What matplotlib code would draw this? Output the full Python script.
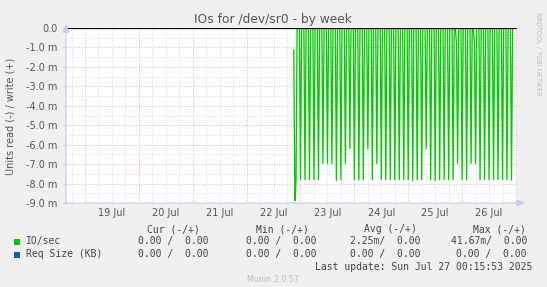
import matplotlib
matplotlib.use("Agg")
import matplotlib.pyplot as plt
import numpy as np

# read IO/sec (milli), one spike every 2 hours starting 22 Jul 22:00
spike_depths = [
    -7.85, -7.80, -7.80, -7.80, -7.80, -7.80, -6.96, -6.96, -6.96, -7.85,
    -7.80, -6.96, -6.19, -7.80, -7.80, -7.80, -6.20, -7.80, -6.96, -7.80,
    -7.80, -7.80, -7.80, -7.80, -7.80, -7.80, -7.85, -7.80, -7.80, -6.20,
    -7.80, -7.85, -7.80, -7.80, -7.80, -7.80, -6.96, -7.80, -7.82, -6.96,
    -6.96, -7.80, -7.80, -7.80, -7.80, -7.80, -7.80, -7.80, -7.82,
]
shelf_spikes = [36, 40]   # spikes with a small -0.82 sample just before
shelf_value = -0.82
lead_values = [-1.13, -8.88]   # first two samples (21:00, 21:30)
first_spike = 22 + 22 / 24     # 22 Jul 22:00, in day-of-month units
step = 0.5 / 24                # 30 min samples

day_labels = ["19 Jul", "20 Jul", "21 Jul", "22 Jul", "23 Jul", "24 Jul", "25 Jul", "26 Jul"]
day_starts = [19, 20, 21, 22, 23, 24, 25, 26, 27]
y_ticks = [0, -1, -2, -3, -4, -5, -6, -7, -8, -9]
y_labels = ["0.0"] + ["%.1f m" % v for v in y_ticks[1:]]

legend_cols = ["Cur (-/+)", "Min (-/+)", "Avg (-/+)", "Max (-/+)"]
io_row = ["0.00 /  0.00", "0.00 /  0.00", "2.25m/  0.00", "41.67m/  0.00"]
req_row = ["0.00 /  0.00", "0.00 /  0.00", "0.00 /  0.00", "0.00 /  0.00"]

# build the 30-min sample series
vals = list(lead_values)
for k, d in enumerate(spike_depths):
    vals.append(d)
    vals += [0.0, 0.0]
    vals.append(shelf_value if (k + 1) in shelf_spikes else 0.0)
vals = vals[:-1] + [0.0, 0.0]
times = first_spike - 2 * step + step * np.arange(len(vals))

W, H = 547, 287
fig = plt.figure(figsize=(W / 100, H / 100), dpi=100)
fig.patch.set_facecolor("#F0F0F0")

left, right, top, bottom = 66, 517, 28, 203
ax = fig.add_axes([left / W, 1 - bottom / H, (right - left) / W, (bottom - top) / H])
ax.set_facecolor("white")
for s in ax.spines.values():
    s.set_visible(False)

x0, x1 = 18.647, 27.019
ax.set_xlim(x0, x1)
ax.set_ylim(-9, 0)

# grid
for v in np.arange(-8.5, 0, 0.5):
    if v != int(v):
        ax.axhline(v, color="#CFCFCF", lw=0.6, ls=(0, (1, 2)), zorder=0)
for v in y_ticks[1:-1]:
    ax.axhline(v, color="#EE9F9F", lw=0.6, ls=(0, (1, 2)), zorder=0.5)
t = 18.75
while t < x1:
    if abs(t - round(t)) > 1e-6:
        ax.axvline(t, color="#CFCFCF", lw=0.6, ls=(0, (1, 2)), zorder=0)
    t += 0.25
for d in day_starts:
    ax.axvline(d, color="#EE9F9F", lw=0.6, ls=(0, (1, 2)), zorder=0.5)

ax.set_yticks(y_ticks, y_labels)
ax.set_xticks([])
ax.tick_params(axis="y", length=2, color="#C8C8E8", labelsize=7, labelcolor="#555555", pad=4)

for d, lab in zip(day_starts, day_labels):
    ax.text(d + 0.5, -0.03, lab, transform=ax.get_xaxis_transform(), ha="center", va="top",
            fontsize=7, color="#555555")

ax.plot(times, vals, color="#00CC00", lw=0.95, zorder=3)
ax.axhline(0, color="black", lw=0.9, zorder=4)

# axis arrows
ax.annotate("", xy=(1.025, 0), xytext=(-0.007, 0), xycoords="axes fraction",
            arrowprops=dict(arrowstyle="-|>,head_length=0.5,head_width=0.2", color="#C8C8F0", lw=0.8),
            annotation_clip=False, zorder=5)
ax.annotate("", xy=(0, 1.04), xytext=(0, -0.017), xycoords="axes fraction",
            arrowprops=dict(arrowstyle="-|>,head_length=0.5,head_width=0.2", color="#C8C8F0", lw=0.8),
            annotation_clip=False, zorder=5)


def px(x, y):
    return x / W, 1 - y / H


fig.text(*px(273, 19), "IOs for /dev/sr0 - by week", ha="center", va="center",
         fontsize=8.8, color="#555555")
fig.text(*px(10.5, 116), "Units read (-) / write (+)", rotation=90, ha="center", va="center",
         fontsize=7, color="#555555")
fig.text(*px(538, 54), "RRDTOOL / TOBI OETIKER", rotation=-90, ha="center", va="center",
         fontsize=4.7, color="#BBBBBB")

mono = "DejaVu Sans Mono"
hdr_ends = [200, 309, 417, 526]
val_ends = [209, 316, 420, 527]
for lab, xe in zip(legend_cols, hdr_ends):
    fig.text(*px(xe, 229), lab, ha="right", va="center", fontsize=7, family=mono, color="#444444")
for y, name, row, col in [(241.4, "IO/sec", io_row, "#00CC00"), (254.3, "Req Size (KB)", req_row, "#0066B3")]:
    fig.patches.append(plt.Rectangle(px(13.5, y + 3.2), 6 / W, 6 / H, transform=fig.transFigure,
                                     facecolor=col, edgecolor="none"))
    fig.text(*px(26, y), name, ha="left", va="center", fontsize=7, family=mono, color="#444444")
    for v, xe in zip(row, val_ends):
        fig.text(*px(xe, y), v, ha="right", va="center", fontsize=7, family=mono, color="#444444")

fig.text(*px(532, 267), "Last update: Sun Jul 27 00:15:53 2025", ha="right", va="center",
         fontsize=7, family=mono, color="#444444")
fig.text(*px(273, 280), "Munin 2.0.57", ha="center", va="center", fontsize=5.8, color="#BBBBBB")

fig.savefig("out.png", dpi=100, facecolor=fig.get_facecolor())
